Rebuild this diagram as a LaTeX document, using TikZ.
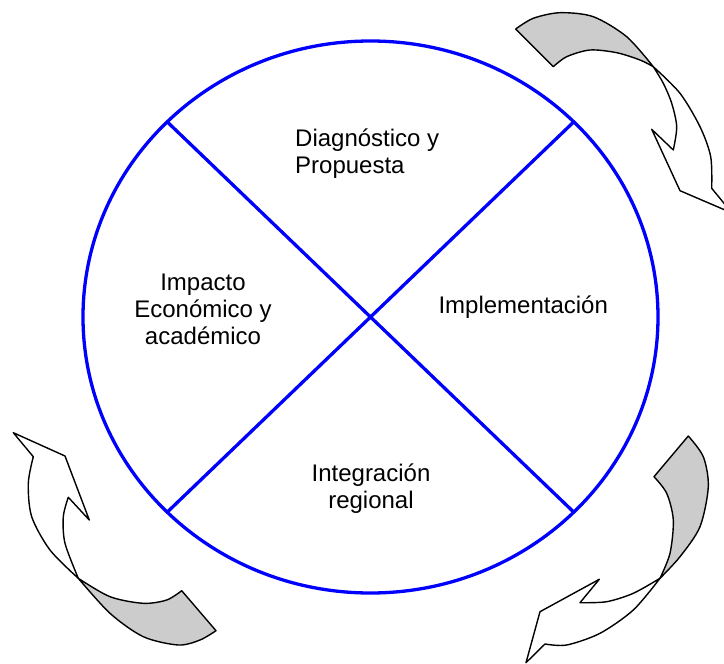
\documentclass[tikz,border=0pt]{standalone}
\usepackage{fontspec}
\setmainfont{Liberation Sans}
\begin{document}
\begin{tikzpicture}[x=1pt,y=-1pt,
  ring/.style={draw=blue, line width=3.3pt},
  arrowout/.style={draw=black, line width=1.4pt, line join=round},
  backside/.style={arrowout, fill=black!20},
  frontside/.style={arrowout, fill=white},
  lbl/.style={inner sep=0pt, font=\fontsize{24}{26.7}\selectfont},
]
\clip (0,0) rectangle (724,664);
\coordinate (c) at (370.5,317);
\path (c) ++(225:287.5 and 276) coordinate (nw);
\path (c) ++(315:287.5 and 276) coordinate (ne);
\path (c) ++(45:287.5 and 276) coordinate (se);
\path (c) ++(135:287.5 and 276) coordinate (sw);
\draw[ring] (c) ellipse [x radius=287.5, y radius=276];
\draw[ring] (nw) -- (c) -- (se);
\draw[ring] (ne) -- (c) -- (sw);

\node[lbl, anchor=base west, align=left] (diag) at (295,173.3) {Diagnóstico y\\Propuesta};
\node[lbl, anchor=base, align=center] (imp) at (203,344) {Impacto\\Económico y\\académico};
\node[lbl, anchor=base west] (impl) at (438.3,313.3) {Implementación};
\begin{scope}
\clip (290,440) rectangle (460,512);
\node[lbl, anchor=base, align=center] (integ) at (371,508.3) {Integración\\regional};
\end{scope}

% top-right arrow
\filldraw[backside] plot[smooth] coordinates {(515.7,29) (533.3,18.3) (560,12.7) (593.3,16.7) (626.7,36.7) (653.3,66.7)}
  -- plot[smooth] coordinates {(653.3,66.7) (640,60) (616.7,52.7) (590,50) (566.7,56.7) (553.3,66.7)} -- cycle;
\filldraw[frontside] plot[smooth] coordinates {(653.3,66.7) (680,93.3) (700,126.7) (710.7,156.7) (711.7,188.3)}
  -- (732,213) -- (680,190.7) -- (651.7,129.3)
  -- plot[smooth] coordinates {(673.3,150) (676.7,126.7) (671.7,103.3) (663.3,83.3) (653.3,66.7)} -- cycle;

% lower-left arrow
\filldraw[backside] plot[smooth] coordinates {(78.3,578.3) (110,613.3) (143.3,636.7) (178.3,645) (200,640) (216,630.7)}
  -- plot[smooth] coordinates {(181.7,590.7) (166.7,600) (143.3,603.3) (110,596.7) (78.3,578.3)} -- cycle;
\filldraw[frontside] plot[smooth] coordinates {(78.3,578.3) (50,550) (31.7,516.7) (28.3,483.3) (33.3,456.7)}
  -- (13.3,432.7) -- (65,456) -- (89.3,520)
  -- plot[smooth] coordinates {(68.3,497.3) (63.3,516.7) (65,543.3) (78.3,578.3)} -- cycle;

% bottom-right arrow
\filldraw[backside] plot[smooth] coordinates {(688.3,436) (703.3,456.7) (708.3,486.7) (700,526.7) (680,556.7) (660,578.3)}
  -- plot[smooth] coordinates {(660,578.3) (670,553.3) (673.3,520) (666.7,493.3) (654,476.7)} -- cycle;
\filldraw[frontside] plot[smooth] coordinates {(660,578.3) (633.3,610) (600,633.3) (566.7,645) (545,644)}
  -- (526,662.7) -- (540,611.7) -- (599.3,579.3)
  -- plot[smooth] coordinates {(580,602.7) (606.7,601.7) (633.3,593.3) (660,578.3)} -- cycle;
\end{tikzpicture}
\end{document}
